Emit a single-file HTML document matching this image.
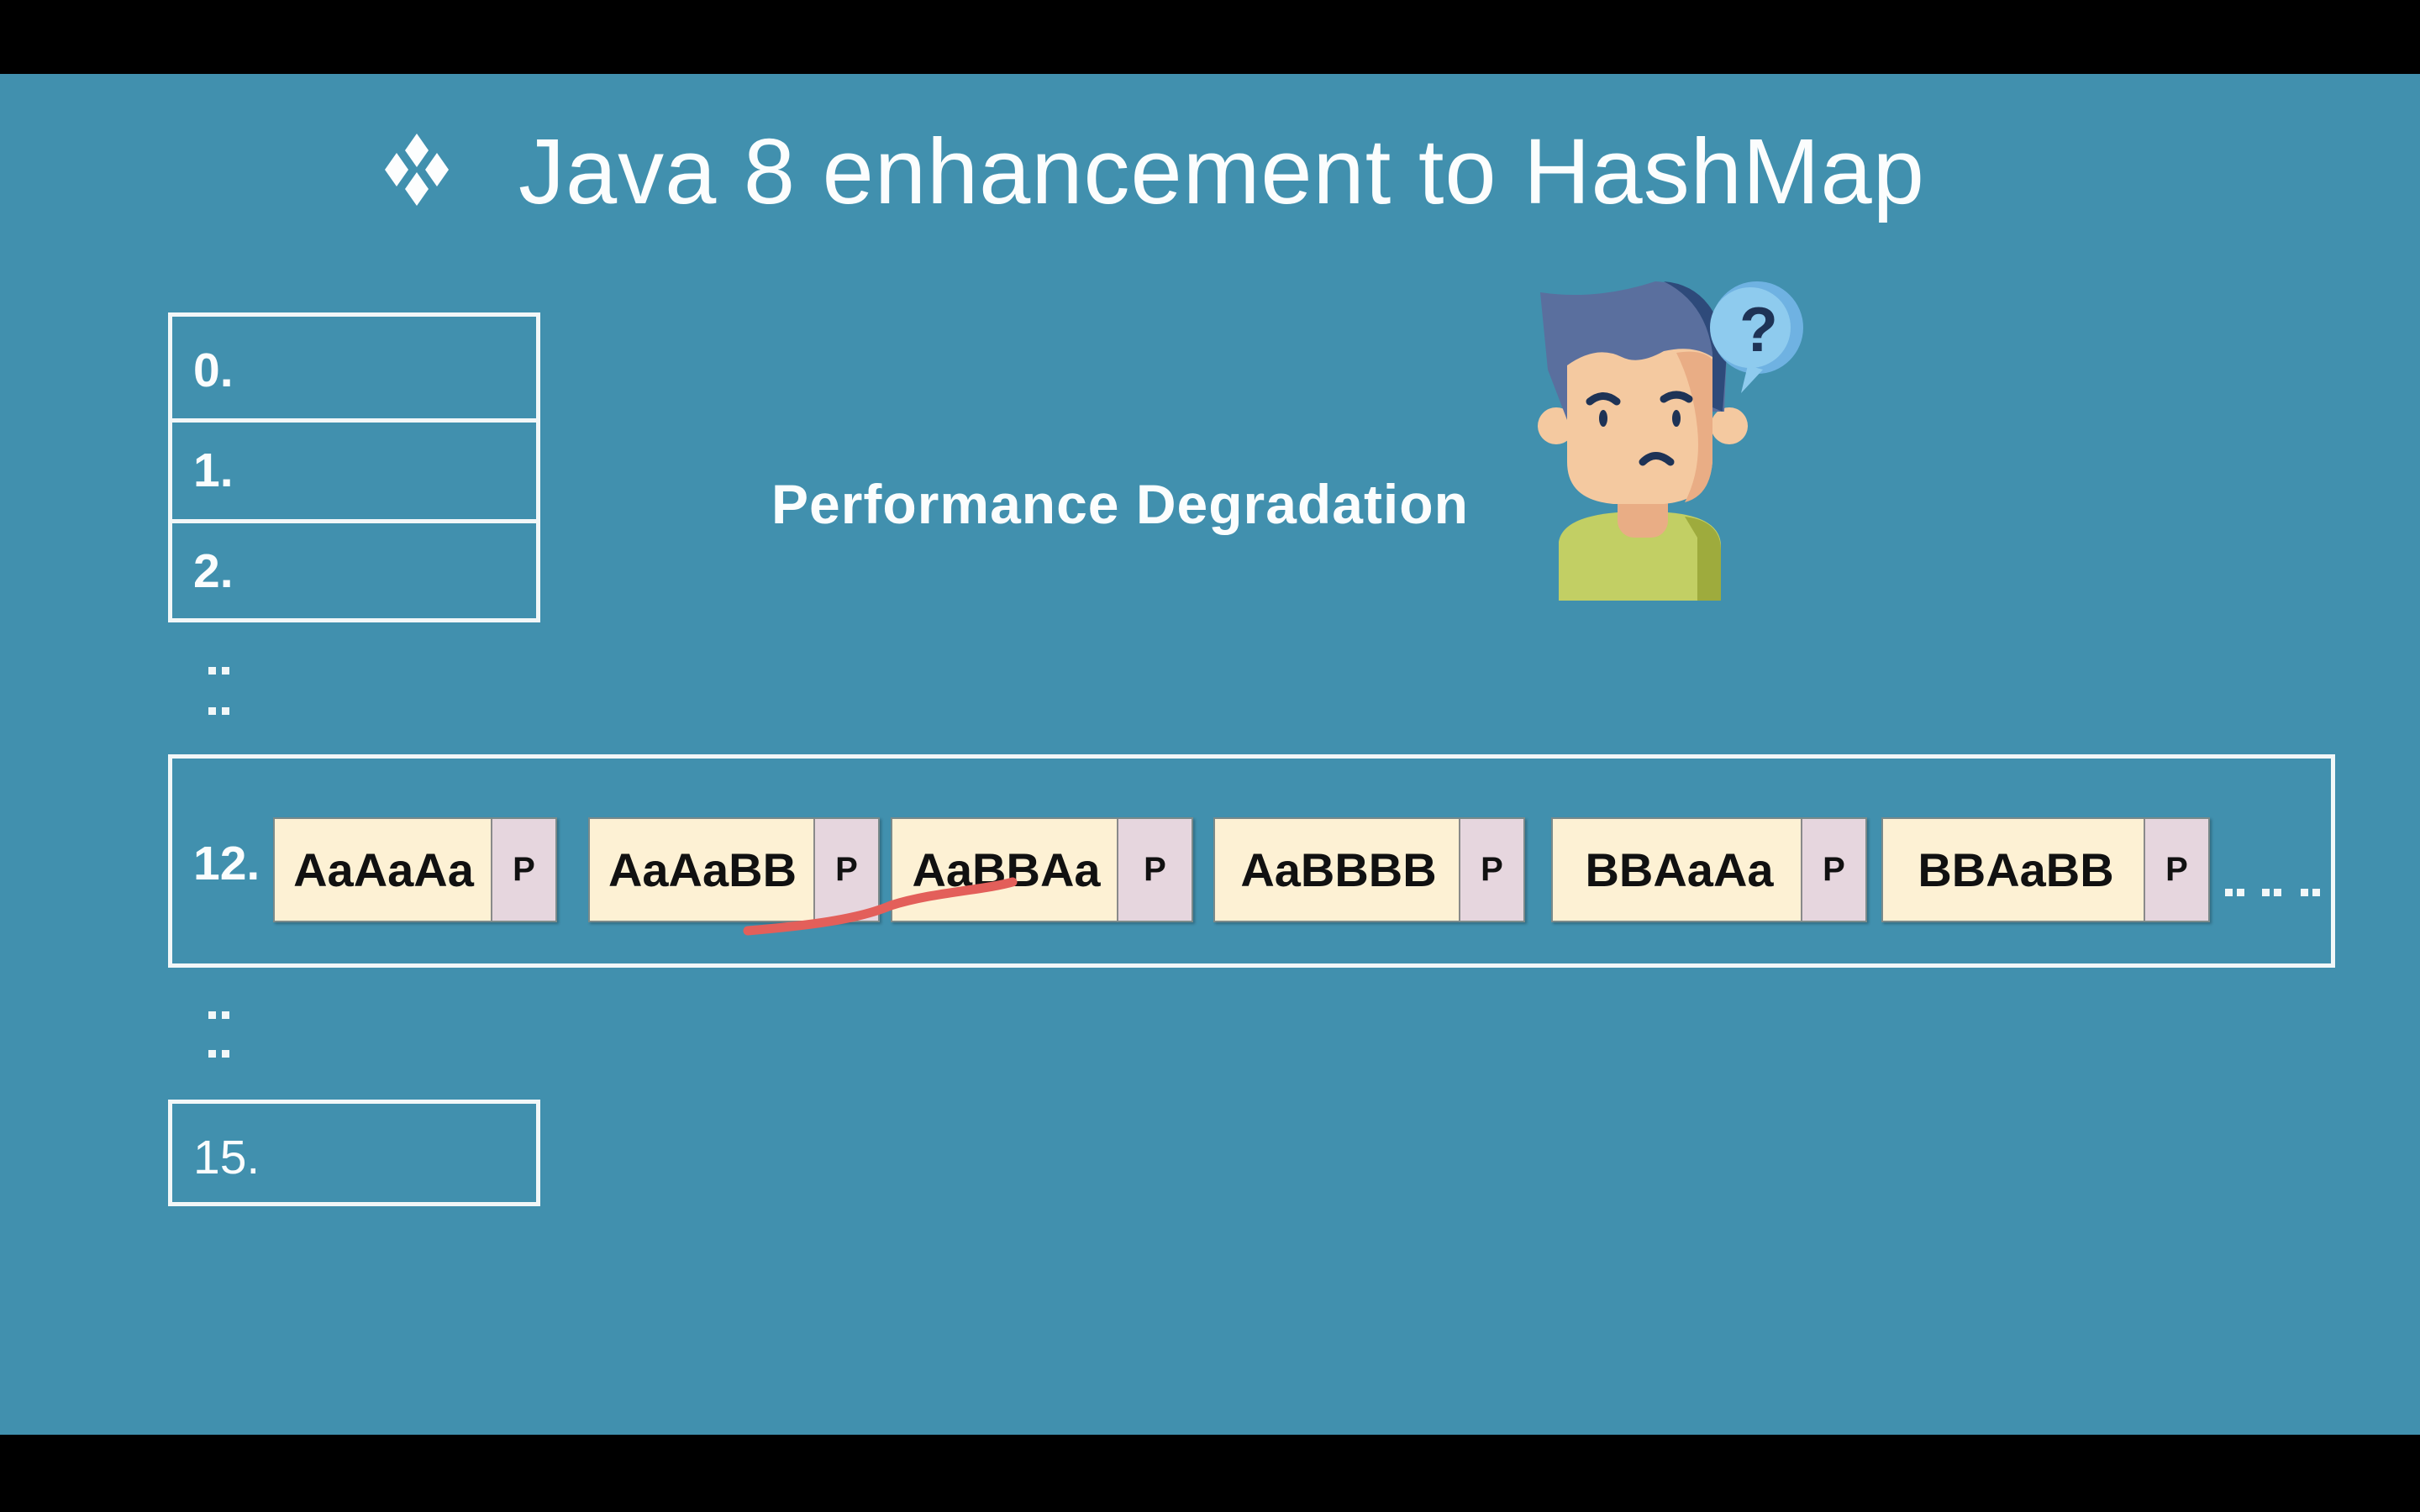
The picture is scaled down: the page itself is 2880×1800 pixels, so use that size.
<!DOCTYPE html>
<html><head><meta charset="utf-8"><style>
*{margin:0;padding:0;box-sizing:border-box}
body{width:2880px;height:1800px;background:#000;position:relative;overflow:hidden;font-family:"Liberation Sans",Arial,sans-serif}
#bg{position:absolute;left:0;top:88px;width:2880px;height:1620px;background:#4190ae}
.abs{position:absolute}
.box{position:absolute;border:5px solid #f2f7f8}
.lbl{position:absolute;color:#fbfdfd;font-weight:bold;font-size:57px;line-height:1}
.dot{position:absolute;width:9px;height:9px;background:#f2f7f8}
.cell{position:absolute;top:973px;height:125px;background:#fdf1d4;border:2px solid #7a8a8a;box-shadow:2px 2px 3px rgba(0,0,0,.25)}
.cell .t{position:absolute;left:0;top:0;height:121px;display:flex;align-items:center;justify-content:center;font-weight:bold;font-size:56px;color:#111}
.cell .p{position:absolute;top:0;right:0;width:77px;height:121px;background:#e6d6de;border-left:2px solid #8a8a8a;display:flex;align-items:center;justify-content:center;font-weight:bold;font-size:40px;color:#111}
</style></head><body>
<div id="bg"></div>
<svg class="abs" style="left:0;top:0" width="2880" height="1800">
 <g fill="#fdfefe">
  <polygon points="496,159 510,179 496,199 482,179"/>
  <polygon points="496,205 510,225 496,245 482,225"/>
  <polygon points="472,182 486,202 472,222 458,202"/>
  <polygon points="520,182 534,202 520,222 506,202"/>
 </g>
</svg>
<div class="abs" style="left:617px;top:150px;font-size:110px;color:#fbfdfd;line-height:1;white-space:nowrap;letter-spacing:1px">Java 8 enhancement to HashMap</div>

<div class="box" style="left:200px;top:372px;width:443px;height:131px"></div>
<div class="box" style="left:200px;top:498px;width:443px;height:125px"></div>
<div class="box" style="left:200px;top:618px;width:443px;height:123px"></div>
<div class="lbl" style="left:230px;top:413px">0.</div>
<div class="lbl" style="left:230px;top:532px">1.</div>
<div class="lbl" style="left:230px;top:652px">2.</div>
<div class="dot" style="left:248px;top:794px"></div><div class="dot" style="left:264px;top:794px"></div>
<div class="dot" style="left:248px;top:842px"></div><div class="dot" style="left:264px;top:842px"></div>
<div class="dot" style="left:248px;top:1204px"></div><div class="dot" style="left:264px;top:1204px"></div>
<div class="dot" style="left:248px;top:1250px"></div><div class="dot" style="left:264px;top:1250px"></div>
<div class="box" style="left:200px;top:1309px;width:443px;height:127px"></div>
<div class="lbl" style="left:230px;top:1350px;font-weight:normal">15.</div>

<div class="abs" style="left:918px;top:562px;font-size:66px;font-weight:bold;color:#fbfdfd;white-space:nowrap;letter-spacing:1px">Performance Degradation</div>

<div class="box" style="left:200px;top:898px;width:2579px;height:254px"></div>
<div class="lbl" style="left:230px;top:1000px">12.</div>

<div class="cell" style="left:325px;width:338px"><div class="t" style="width:259px">AaAaAa</div><div class="p">P</div></div>
<div class="cell" style="left:700px;width:347px"><div class="t" style="width:268px">AaAaBB</div><div class="p">P</div></div>
<div class="cell" style="left:1060px;width:360px"><div class="t" style="width:271px">AaBBAa</div><div class="p" style="width:89px">P</div></div>
<div class="cell" style="left:1444px;width:371px"><div class="t" style="width:294px">AaBBBB</div><div class="p">P</div></div>
<div class="cell" style="left:1846px;width:376px"><div class="t" style="width:301px">BBAaAa</div><div class="p">P</div></div>
<div class="cell" style="left:2239px;width:391px"><div class="t" style="width:316px">BBAaBB</div><div class="p">P</div></div>
<div class="dot" style="left:2648px;top:1058px"></div><div class="dot" style="left:2662px;top:1058px"></div>
<div class="dot" style="left:2692px;top:1058px"></div><div class="dot" style="left:2706px;top:1058px"></div>
<div class="dot" style="left:2738px;top:1058px"></div><div class="dot" style="left:2752px;top:1058px"></div>

<svg class="abs" style="left:0;top:0" width="2880" height="1800">
 <path d="M890,1108 C960,1102 1020,1095 1060,1078 C1110,1062 1170,1060 1205,1050" stroke="#e35f5a" stroke-width="11" fill="none" stroke-linecap="round"/>
</svg>

<svg class="abs" style="left:1780px;top:310px" width="400" height="420" viewBox="0 0 400 420">
 <path d="M75,335 Q80,305 145,300 L205,300 Q268,305 268,340 L268,405 L75,405 Z" fill="#c2cf64"/>
 <path d="M225,305 Q268,310 268,345 L268,405 L240,405 L240,330 Z" fill="#9eab3d"/>
 <rect x="145" y="270" width="60" height="60" rx="20" fill="#e9ad85"/>
 <circle cx="72" cy="197" r="22" fill="#f4c9a0"/>
 <circle cx="278" cy="197" r="22" fill="#f4c9a0"/>
 <path d="M53,38 Q120,48 190,25 Q262,28 275,110 L272,180 L255,180 L255,115 L85,190 L62,130 Z" fill="#5a6f9e"/>
 <path d="M200,25 Q262,30 275,110 L270,180 L258,175 L258,110 Q250,50 200,25 Z" fill="#2e4a7a"/>
 <path d="M85,125 Q120,100 150,115 Q170,125 200,108 Q235,100 258,115 L258,240 Q255,285 200,290 L140,290 Q85,285 85,240 Z" fill="#f4c9a0"/>
 <path d="M215,110 Q245,105 258,118 L258,240 Q255,280 225,288 Q245,250 240,200 Q235,150 215,110 Z" fill="#e9ad85"/>
 <g stroke="#1e3356" stroke-width="9" fill="none" stroke-linecap="round">
  <path d="M112,168 Q128,155 144,168"/>
  <path d="M200,165 Q215,155 230,165"/>
  <path d="M175,240 Q190,225 208,240"/>
 </g>
 <ellipse cx="128" cy="188" rx="5" ry="10" fill="#1e3356"/>
 <ellipse cx="215" cy="188" rx="5" ry="10" fill="#1e3356"/>
 <circle cx="311" cy="80" r="55" fill="#6fb2e2"/>
 <circle cx="303" cy="80" r="48" fill="#8ecbee"/>
 <path d="M300,125 L292,158 L318,130 Z" fill="#8ecbee"/>
 <text x="290" y="108" font-family="Liberation Sans,sans-serif" font-weight="bold" font-size="75" fill="#1e3356">?</text>
</svg>
</body></html>
